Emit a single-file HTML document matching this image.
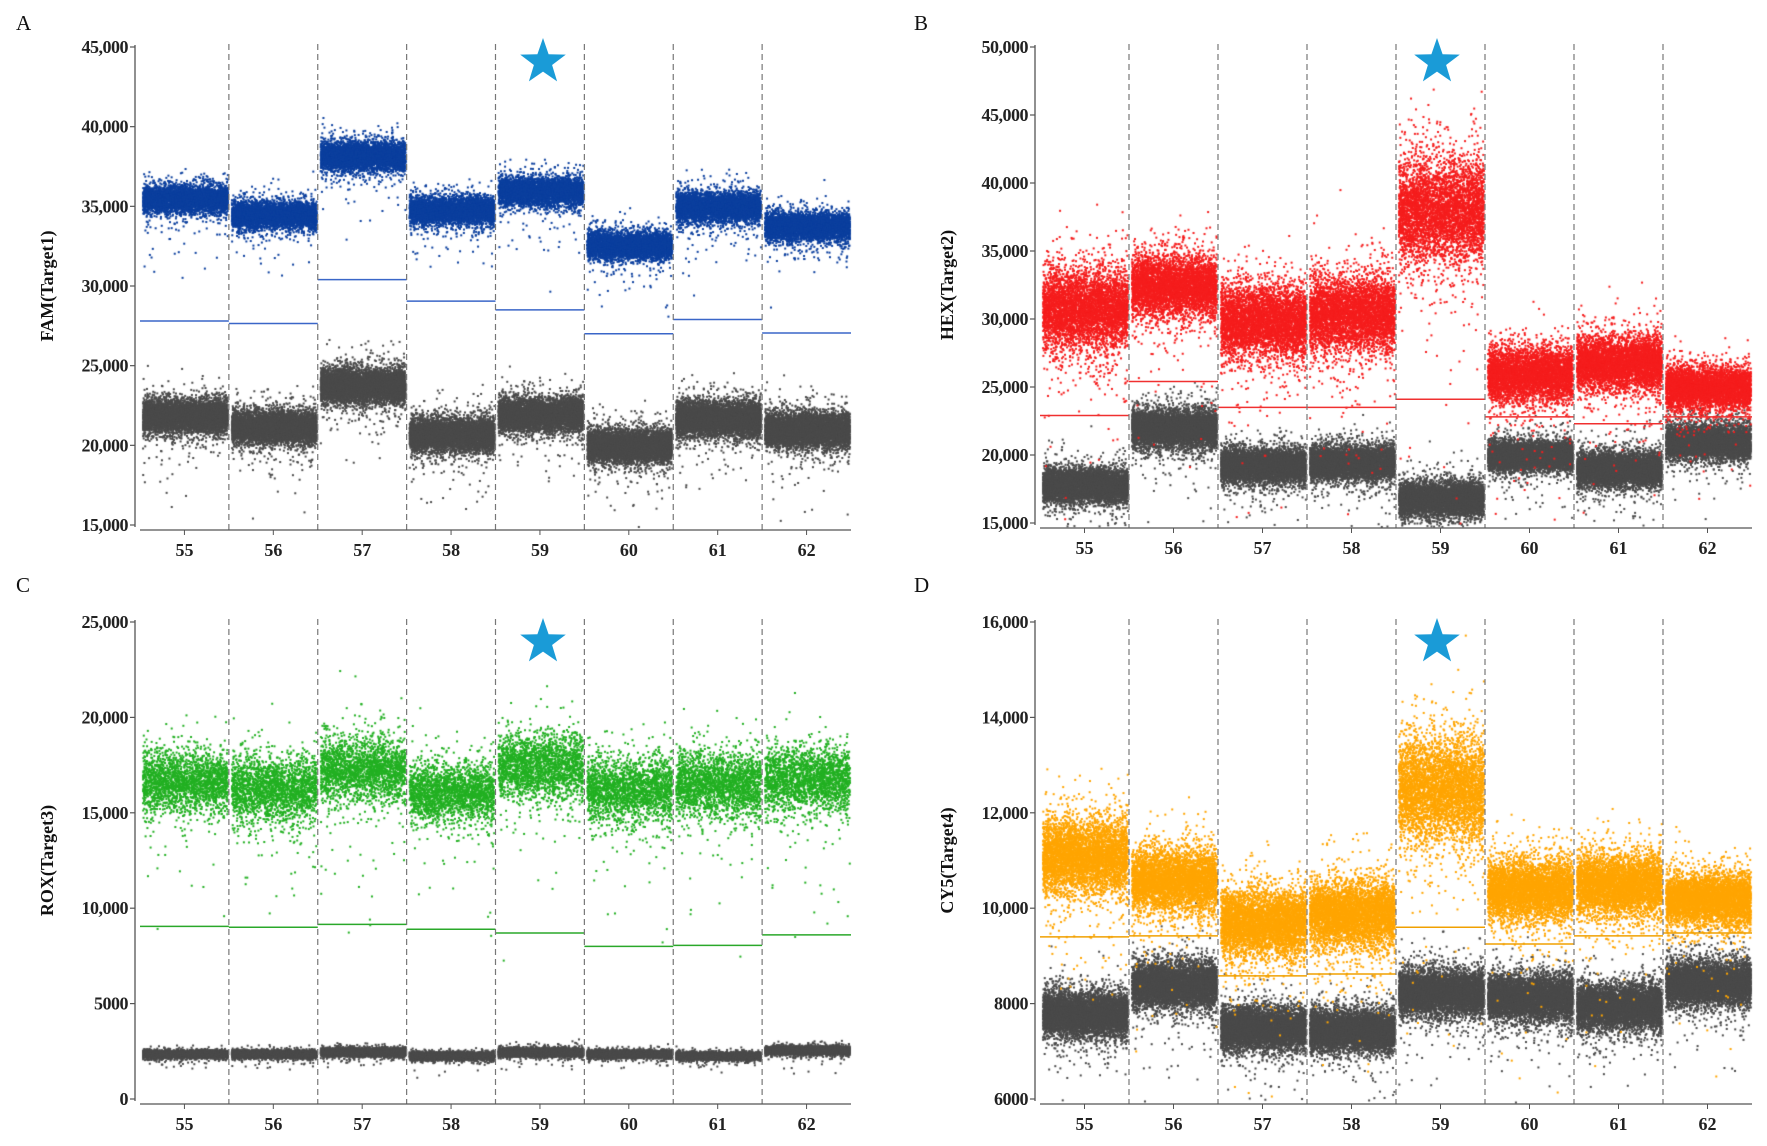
<!DOCTYPE html>
<html><head><meta charset="utf-8"><style>
body{margin:0;background:#fff;}
#wrap{position:relative;width:1767px;height:1146px;overflow:hidden;}
canvas{position:absolute;left:0;top:0;}
svg{position:absolute;left:0;top:0;}
text{font-family:"Liberation Serif",serif;}
</style></head><body>
<div id="wrap">
<canvas id="cv" width="1767" height="1146"></canvas>
<svg id="sv" width="1767" height="1146"></svg>
</div>
<script>
const categories=["55","56","57","58","59","60","61","62"];
// Panel A FAM
const famPos=[35500,34500,38200,34800,36000,32600,35000,33800];
const famPosSd=[550,550,600,550,550,550,600,550];
const famThr=[27800,27650,30400,29050,28500,27000,27900,27050];
const famNeg=[21900,21200,23800,20700,22000,20000,21700,21000];
const famNegSd=[650,650,700,650,650,650,700,700];
const famTicks=[15000,20000,25000,30000,35000,40000,45000];
// Panel B HEX
const hexPos=[30800,32500,29800,30500,38000,26000,26800,25000];
const hexPosSd=[1900,1500,1700,1800,2400,1300,1300,1000];
const hexThr=[22900,25400,23500,23500,24100,22800,22300,22800];
const hexNeg=[17800,22000,19300,19500,16800,20000,19000,21000];
const hexNegSd=[800,900,800,800,800,700,800,800];
const hexTicks=[15000,20000,25000,30000,35000,40000,45000,50000];
// Panel C ROX
const roxPos=[16700,16300,17300,16100,17500,16300,16500,16800];
const roxPosSd=[1000,1100,1100,1000,1100,1100,1100,1100];
const roxThr=[9050,9000,9150,8900,8700,8000,8050,8600];
const roxNeg=[2400,2400,2500,2300,2500,2400,2300,2600];
const roxNegSd=[110,110,120,110,120,110,110,120];
const roxTicks=[0,5000,10000,15000,20000,25000];
// Panel D CY5
const cy5Pos=[11100,10600,9700,9900,12500,10400,10500,10200];
const cy5PosSd=[500,420,450,450,700,420,420,350];
const cy5Thr=[9400,9420,8580,8620,9600,9250,9420,9480];
const cy5Neg=[7800,8400,7500,7450,8250,8150,7950,8450];
const cy5NegSd=[300,300,280,280,300,300,300,300];
const cy5Ticks=[6000,8000,10000,12000,14000,16000];

const panels=[
 {letter:"A",lx:16,ly:30,title:"FAM(Target1)",x0:140,x1:851,ax:135,yT:47,yB:525,xl:530,vmin:15000,vmax:45000,ticks:famTicks,pos:famPos,psd:famPosSd,thr:famThr,neg:famNeg,nsd:famNegSd,col:"#0b3f9e",tcol:"#3a66c8",star:543,sy:59,np:4500},
 {letter:"B",lx:914,ly:30,title:"HEX(Target2)",x0:1040,x1:1752,ax:1035,yT:47,yB:523,xl:528,vmin:15000,vmax:50000,ticks:hexTicks,pos:hexPos,psd:hexPosSd,thr:hexThr,neg:hexNeg,nsd:hexNegSd,col:"#f51d1d",tcol:"#f03030",star:1437,sy:59,np:4500},
 {letter:"C",lx:16,ly:592,title:"ROX(Target3)",x0:140,x1:851,ax:135,yT:622,yB:1099,xl:1104,vmin:0,vmax:25000,ticks:roxTicks,pos:roxPos,psd:roxPosSd,thr:roxThr,neg:roxNeg,nsd:roxNegSd,col:"#22b022",tcol:"#2aa82a",star:543,sy:639,np:2200},
 {letter:"D",lx:914,ly:592,title:"CY5(Target4)",x0:1040,x1:1752,ax:1035,yT:622,yB:1099,xl:1104,vmin:6000,vmax:16000,ticks:cy5Ticks,pos:cy5Pos,psd:cy5PosSd,thr:cy5Thr,neg:cy5Neg,nsd:cy5NegSd,col:"#ffa500",tcol:"#f0a000",star:1437,sy:639,np:4500}
];
let seed=12345;
function rnd(){seed=(seed*1664525+1013904223)%4294967296;return seed/4294967296;}
function gauss(){let u=rnd()||1e-9,v=rnd();return Math.sqrt(-2*Math.log(u))*Math.cos(2*Math.PI*v);}
function fmt(v){return v>=10000?v.toLocaleString("en-US"):String(v);}
const ctx=document.getElementById("cv").getContext("2d");
const sv=document.getElementById("sv");
const NS="http://www.w3.org/2000/svg";
function mk(tag,attrs,parent){const e=document.createElementNS(NS,tag);for(const k in attrs)e.setAttribute(k,attrs[k]);(parent||sv).appendChild(e);return e;}
function cloud(p,xs,w,mean,sd,n,dir,col,tailFrac){
 ctx.fillStyle=col;
 for(let k=0;k<n;k++){
  let v;
  const r=rnd();
  if(r<0.88)v=mean+gauss()*sd*0.75;
  else if(r<1-tailFrac)v=mean+gauss()*sd*1.4;
  else v=mean+dir*Math.abs(gauss())*sd*3.5;
  const y=p.ys(v);
  if(y<p.yT-5||y>p.xl-2)continue;
  const x=xs+2+rnd()*(w-4);
  ctx.fillRect(x,y,2,2);
 }
}
panels.forEach((p,pi)=>{
 const cw=(p.x1-p.x0)/categories.length;
 p.ys=v=>p.yB-(v-p.vmin)/(p.vmax-p.vmin)*(p.yB-p.yT);
 const g=mk("g",{});
 
 
 categories.forEach((c,i)=>{
  const xs=p.x0+i*cw;
  cloud(p,xs,cw,p.neg[i],p.nsd[i],6000,-1,"#4a4a4a",0.008);
  cloud(p,xs,cw,p.pos[i],p.psd[i],p.np,-1,p.col,0.012);
  const tl=mk("line",{x1:xs,x2:xs+cw,y1:p.ys(p.thr[i]),y2:p.ys(p.thr[i]),stroke:p.tcol,"stroke-width":1.5},g);
  
  
  if(i>0){const d=mk("line",{x1:xs,x2:xs,y1:p.yT-3,y2:p.xl,stroke:"#777","stroke-width":1.2,"stroke-dasharray":"6,4"},g);
   
   }
  const cx=xs+cw/2;
  mk("line",{x1:cx,x2:cx,y1:p.xl,y2:p.xl+5,stroke:"#555","stroke-width":1},g);
  const t=mk("text",{x:cx,y:p.xl+26,"text-anchor":"middle","font-size":18,"font-weight":"bold",fill:"#222"},g);
  t.textContent=c;
  
  
 });
 const ya=mk("line",{x1:p.ax,x2:p.ax,y1:p.yT-2,y2:p.yB+2,stroke:"#555","stroke-width":1.3},g);
 
 
 const xa=mk("line",{x1:p.x0,x2:p.x1,y1:p.xl,y2:p.xl,stroke:"#555","stroke-width":1.3},g);
 
 
 p.ticks.forEach(v=>{
  const y=p.ys(v);
  mk("line",{x1:p.ax-5,x2:p.ax,y1:y,y2:y,stroke:"#555","stroke-width":1.2},g);
  const t=mk("text",{x:p.ax-7,y:y+6,"text-anchor":"end","font-size":18,"font-weight":"bold",fill:"#222","letter-spacing":"-0.5"},g);
  t.textContent=fmt(v);
  
  
 });
 const tx=p.ax-82, ty=(p.yT+p.yB)/2;
 const tt=mk("text",{x:tx,y:ty,"text-anchor":"middle","font-size":18,"font-weight":"bold",fill:"#111",transform:`rotate(-90 ${tx} ${ty})`},g);
 tt.textContent=p.title;
 
 
 const L=mk("text",{x:p.lx,y:p.ly,"font-size":21,fill:"#111"},g);
 L.textContent=p.letter;
 
 
 const R=24,r=R*0.4,pts=[];
 for(let k=0;k<10;k++){const a=-Math.PI/2+k*Math.PI/5,rr=k%2?r:R;pts.push((p.star+rr*Math.cos(a)).toFixed(1)+","+(p.sy+3+rr*Math.sin(a)).toFixed(1));}
 const s=mk("polygon",{points:pts.join(" "),fill:"#1a9bd7"},g);
 
 
});
</script>
</body></html>
